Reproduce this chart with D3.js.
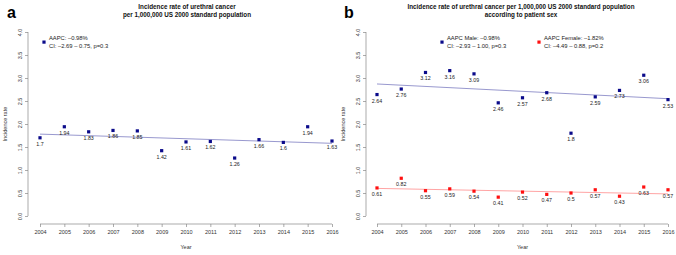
<!DOCTYPE html>
<html>
<head>
<meta charset="utf-8">
<script src="https://cdn.jsdelivr.net/npm/d3@7"></script>
<style>
  body { margin: 0; background: #fff; }
  svg { font-family: "Liberation Sans", Arial, sans-serif; }
</style>
</head>
<body>
<div id="chart"></div>
<script>
// data
var years = [2004, 2005, 2006, 2007, 2008, 2009, 2010, 2011, 2012, 2013, 2014, 2015, 2016];
var totalRate = [1.7, 1.94, 1.83, 1.86, 1.85, 1.42, 1.61, 1.62, 1.26, 1.66, 1.6, 1.94, 1.63];
var totalLabels = ["1.7", "1.94", "1.83", "1.86", "1.85", "1.42", "1.61", "1.62", "1.26", "1.66", "1.6", "1.94", "1.63"];
var maleRate = [2.64, 2.76, 3.12, 3.16, 3.09, 2.46, 2.57, 2.68, 1.8, 2.59, 2.73, 3.06, 2.53];
var maleLabels = ["2.64", "2.76", "3.12", "3.16", "3.09", "2.46", "2.57", "2.68", "1.8", "2.59", "2.73", "3.06", "2.53"];
var femaleRate = [0.61, 0.82, 0.55, 0.59, 0.54, 0.41, 0.52, 0.47, 0.5, 0.57, 0.43, 0.63, 0.57];
var femaleLabels = ["0.61", "0.82", "0.55", "0.59", "0.54", "0.41", "0.52", "0.47", "0.5", "0.57", "0.43", "0.63", "0.57"];
// fitted trend (value at first and last year)
var totalTrend = [1.78, 1.58];
var maleTrend = [2.87, 2.55];
var femaleTrend = [0.6, 0.48];
var yTicks = [0, 0.5, 1, 1.5, 2, 2.5, 3, 3.5, 4];

var svg = d3.select("#chart").append("svg")
    .attr("width", 676)
    .attr("height", 255);

function panel(opt) {
  var g = svg.append("g");
  var x = d3.scaleLinear().domain([2004, 2016]).range([opt.x0, opt.x1]);
  var y = d3.scaleLinear().domain([0, 4]).range([216, 32]);

  // panel letter
  g.append("text")
    .attr("x", opt.letterX).attr("y", 18)
    .attr("fill", "#000")
    .style("font-size", "16px").style("font-weight", "bold")
    .text(opt.letter);

  // title
  g.selectAll(".title").data(opt.title).enter().append("text")
    .attr("x", opt.titleX).attr("y", function(d, i) { return 9 + i * 8; })
    .attr("text-anchor", "middle")
    .attr("fill", "#111")
    .style("font-size", "6.3px").style("font-weight", "bold")
    .text(function(d) { return d; });

  // y axis
  var yAxis = g.append("g")
    .attr("transform", "translate(" + opt.axisX + ",0)")
    .call(d3.axisLeft(y).tickValues(yTicks).tickSize(3).tickFormat(d3.format(".1f")));
  yAxis.select(".domain").attr("d", "M0," + y(0) + "V" + y(4));
  yAxis.selectAll("line, path").attr("stroke", "#888").attr("stroke-width", 0.7);
  yAxis.selectAll("text")
    .attr("x", 0).attr("dy", 0)
    .attr("transform", "translate(-6,0)rotate(-90)")
    .attr("text-anchor", "middle")
    .attr("fill", "#333")
    .style("font-size", "5.5px").style("font-family", "Liberation Sans, Arial, sans-serif");

  // x axis
  var xAxis = g.append("g")
    .attr("transform", "translate(0,224)")
    .call(d3.axisBottom(x).tickValues(years).tickSize(3).tickFormat(d3.format("d")));
  xAxis.select(".domain").attr("d", "M" + x(2004) + ",0H" + x(2016));
  xAxis.selectAll("line, path").attr("stroke", "#888").attr("stroke-width", 0.7);
  xAxis.selectAll("text")
    .attr("y", 6).attr("dy", "0.71em")
    .attr("fill", "#333")
    .style("font-size", "5.5px").style("font-family", "Liberation Sans, Arial, sans-serif");

  g.append("text")
    .attr("x", (opt.x0 + opt.x1) / 2).attr("y", 249)
    .attr("text-anchor", "middle")
    .style("font-size", "5.5px").attr("fill", "#333")
    .text("Year");

  g.append("text")
    .attr("transform", "translate(" + (opt.axisX - 21) + ",124)rotate(-90)")
    .attr("text-anchor", "middle")
    .style("font-size", "5.5px").attr("fill", "#333")
    .text("Incidence rate");

  opt.series.forEach(function(s) {
    // trend line
    g.append("line")
      .attr("x1", x(2004)).attr("y1", y(s.trend[0]))
      .attr("x2", x(2016)).attr("y2", y(s.trend[1]))
      .attr("stroke", s.lineColor).attr("stroke-width", 0.9);

    g.selectAll(null).data(s.values).enter().append("rect")
      .attr("x", function(d, i) { return x(years[i]) - 1.6; })
      .attr("y", function(d) { return y(d) - 1.6; })
      .attr("width", 3.2).attr("height", 3.2)
      .attr("fill", s.color);

    g.selectAll(null).data(s.values).enter().append("text")
      .attr("x", function(d, i) { return x(years[i]); })
      .attr("y", function(d) { return y(d) + 8; })
      .attr("text-anchor", "middle")
      .style("font-size", "5.3px").attr("fill", "#222")
      .text(function(d, i) { return s.labels[i]; });

    // legend
    g.append("rect")
      .attr("x", s.legX - 1.6).attr("y", 40.5)
      .attr("width", 3.2).attr("height", 3.2)
      .attr("fill", s.color);
    g.selectAll(null).data(s.legend).enter().append("text")
      .attr("x", s.legX + 5).attr("y", function(d, i) { return 40 + i * 8; })
      .style("font-size", "5.8px").attr("fill", "#222")
      .text(function(d) { return d; });
  });
}

panel({
  letter: "a", letterX: 7, titleX: 187, axisX: 28, x0: 40, x1: 332,
  title: ["Incidence rate of urethral cancer", "per 1,000,000 US 2000 standard population"],
  series: [
    { values: totalRate, labels: totalLabels, trend: totalTrend, color: "#0a0a8a", lineColor: "#8c8cc8",
      legX: 44, legend: ["AAPC: \u20130.98%", "CI: \u20132.69 \u2013 0.75, p=0.3"] }
  ]
});

panel({
  letter: "b", letterX: 344, titleX: 521, axisX: 366, x0: 377, x1: 668,
  title: ["Incidence rate of urethral cancer per 1,000,000 US 2000 standard population", "according to patient sex"],
  series: [
    { values: maleRate, labels: maleLabels, trend: maleTrend, color: "#0a0a8a", lineColor: "#8c8cc8",
      legX: 442, legend: ["AAPC Male: \u20130.98%", "CI: \u20132.93 \u2013 1.00, p=0.3"] },
    { values: femaleRate, labels: femaleLabels, trend: femaleTrend, color: "#ff1010", lineColor: "#ff9a9a",
      legX: 539, legend: ["AAPC Female: \u20131.82%", "CI: \u20134.49 \u2013 0.88, p=0.2"] }
  ]
});
</script>
</body>
</html>
